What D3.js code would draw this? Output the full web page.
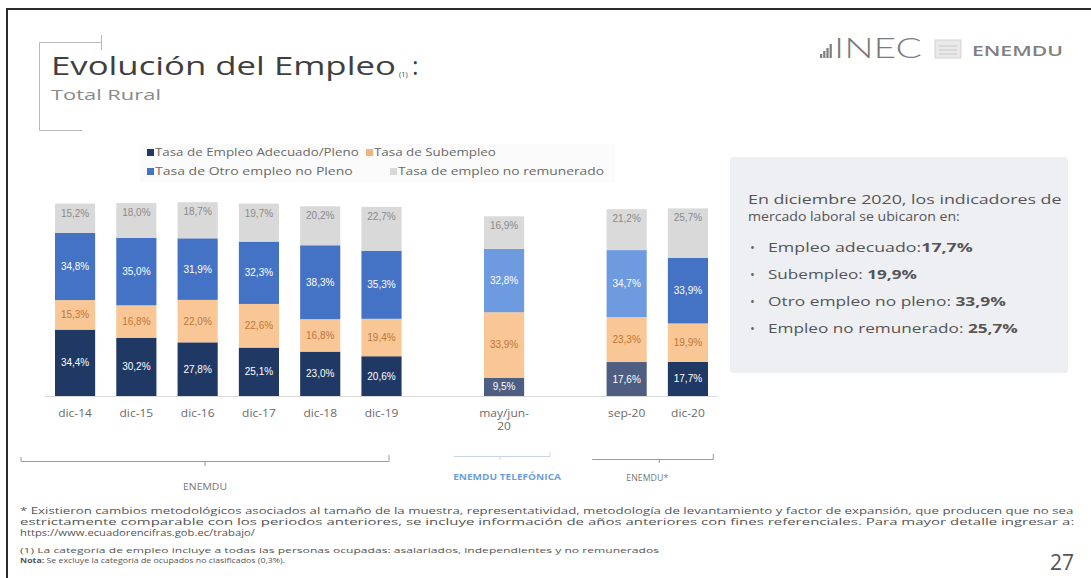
<!DOCTYPE html>
<html><head><meta charset="utf-8">
<script src="https://cdn.jsdelivr.net/npm/d3@7"></script>
<style>body{margin:0;background:#fff}svg{display:block}</style>
</head><body><svg id="c" width="1091" height="578"></svg>
<script>
// ---------- DATA ----------
const categories = ["dic-14","dic-15","dic-16","dic-17","dic-18","dic-19","may/jun-20","sep-20","dic-20"];
const adecuado     = [34.4, 30.2, 27.8, 25.1, 23.0, 20.6,  9.5, 17.6, 17.7];
const subempleo    = [15.3, 16.8, 22.0, 22.6, 16.8, 19.4, 33.9, 23.3, 19.9];
const otroNoPleno  = [34.8, 35.0, 31.9, 32.3, 38.3, 35.3, 32.8, 34.7, 33.9];
const noRemunerado = [15.2, 18.0, 18.7, 19.7, 20.2, 22.7, 16.9, 21.2, 25.7];
const seriesNames  = ["Tasa de Empleo Adecuado/Pleno","Tasa de Subempleo","Tasa de Otro empleo no Pleno","Tasa de empleo no remunerado"];
const groupLabels  = ["ENEMDU","ENEMDU TELEFÓNICA","ENEMDU*"];

// ---------- SETUP ----------
const svg = d3.select("#c");
const W = 1091, H = 578;
const FONT = "'Open Sans', 'DejaVu Sans', sans-serif";
const NUMF = "'Liberation Sans', Arial, sans-serif";
svg.append("rect").attr("width", W).attr("height", H).attr("fill", "#fff");
svg.append("path").attr("d", "M7,578 V9 H1091").attr("fill", "none").attr("stroke", "#2b2b2b").attr("stroke-width", 2);

// text fitted to a width by a horizontal scale (imitates a wide geometric face)
function fitText(parent, x, y, target, attrs, build) {
  const g = parent.append("g");
  const t = g.append("text").attr("x", 0).attr("y", 0).attr("font-family", FONT);
  Object.entries(attrs).forEach(([k, v]) => t.attr(k, v));
  build(t);
  const len = t.node().getComputedTextLength();
  const k = target ? target / len : 1.25;
  g.attr("transform", `translate(${x},${y}) scale(${k},1)`);
  return t;
}
const plain = s => t => t.text(s);

// title decoration
svg.append("path").attr("d", "M39.5,130.5 V42.5 H101.5 M101.5,35 V50 M39.5,130.5 H82")
  .attr("stroke", "#b8b8b8").attr("fill", "none");

fitText(svg, 51, 75, 345, {"font-size": 25, fill: "#3f3f3f"}, plain("Evolución del Empleo"));
svg.append("text").attr("x", 399).attr("y", 77).attr("font-family", FONT).attr("font-size", 7.5).attr("fill", "#3f3f3f").text("(1)");
svg.append("text").attr("x", 412).attr("y", 75).attr("font-family", FONT).attr("font-size", 25).attr("fill", "#3f3f3f").text(":");
fitText(svg, 51, 100, 110, {"font-size": 15, fill: "#8a8a8a"}, plain("Total Rural"));

// logo
const logo = svg.append("g");
[4,7,10,14].forEach((h,i)=>logo.append("rect").attr("x", 820 + i*3.2).attr("y", 58 - h).attr("width", 2.2).attr("height", h).attr("fill", "#7d7d7d"));
fitText(logo, 834, 58, 88, {"font-size": 28, "font-weight": 300, fill: "#7a7a7a", "font-family": "Lato, sans-serif"}, plain("INEC"));
logo.append("rect").attr("x", 935).attr("y", 40).attr("width", 26).attr("height", 18).attr("fill", "#e9e9e9").attr("stroke", "#d2d2d2");
logo.append("path").attr("d", "M939,46 H957 M939,50 H957 M939,54 H957").attr("stroke", "#c9c9c9");
fitText(logo, 972, 56, 91, {"font-size": 14.5, "font-weight": 600, fill: "#808080"}, plain("ENEMDU"));

// colours
const colors = ["#203864", "#f8c795", "#4472c4", "#d9d9d9"];
const mutedColors = ["#4e5d82", "#f8c795", "#6e9ae0", "#dadada"];
const labelColors = ["#ffffff", "#c0763a", "#ffffff", "#8a8a8a"];
const legendColors = ["#1f3864", "#f4b183", "#4472c4", "#d9d9d9"];
const mutedCats = new Set(["may/jun-20", "sep-20"]);

// legend
svg.append("rect").attr("x", 140).attr("y", 144).attr("width", 475).attr("height", 38).attr("fill", "#fbfbfb");
const legendLayout = [[147,156,204],[366,156,122],[147,175,198],[390,175,206]];
seriesNames.forEach((n,i)=>{
  const [lx, ly, w] = legendLayout[i];
  svg.append("rect").attr("x", lx).attr("y", ly - 7).attr("width", 7).attr("height", 7).attr("fill", legendColors[i]);
  fitText(svg, lx + 8, ly, w, {"font-size": 10.5, fill: "#6a6a6a"}, plain(n));
});

// ---------- CHART ----------
const slots = [...categories.slice(0,6), "gap1", categories[6], "gap2", ...categories.slice(7)];
const x = d3.scaleBand().domain(slots).range([55, 708]).paddingInner(0.345).paddingOuter(0);
const y = d3.scaleLinear().domain([0, 100]).range([396, 203]);

const keys = ["adecuado","subempleo","otro","noRem"];
const table = categories.map((c,i)=>({cat:c, adecuado:adecuado[i], subempleo:subempleo[i], otro:otroNoPleno[i], noRem:noRemunerado[i]}));
const stacked = d3.stack().keys(keys)(table);
const fmt = v => d3.format(".1f")(v).replace(".", ",") + "%";

stacked.forEach((layer, li)=>{
  const g = svg.append("g");
  g.selectAll("rect").data(layer).join("rect")
    .attr("x", d=>x(d.data.cat)).attr("width", x.bandwidth())
    .attr("y", d=>y(d[1])).attr("height", d=>y(d[0]) - y(d[1]))
    .attr("fill", d=> mutedCats.has(d.data.cat) ? mutedColors[li] : colors[li]);
  g.selectAll("text").data(layer).join("text")
    .attr("x", d=>x(d.data.cat) + x.bandwidth()/2)
    .attr("y", d=> li === 3 ? y(d[1]) + 13 : (y(d[0]) + y(d[1]))/2 + 3.5)
    .attr("text-anchor", "middle").attr("font-family", NUMF).attr("font-size", 10)
    .attr("fill", labelColors[li]).text(d=>fmt(d[1]-d[0]));
});

// baseline
svg.append("line").attr("x1", 45).attr("x2", 718).attr("y1", 396.5).attr("y2", 396.5).attr("stroke", "#d9d9d9");

// x axis
const xAxis = svg.append("g").attr("transform", "translate(0,397)")
  .call(d3.axisBottom(x).tickValues(categories).tickSize(0).tickPadding(13));
xAxis.select(".domain").remove();
xAxis.selectAll("text").attr("font-family", FONT).attr("font-size", 10).attr("fill", "#6a6a6a")
  .attr("transform", "scale(1.2,1)")
  .each(function(d){
    if (d.length > 7) {
      const t = d3.select(this); const cut = d.indexOf("-") + 1;
      t.text(null);
      t.append("tspan").attr("x", 0).attr("dy", "0.71em").text(d.slice(0, cut));
      t.append("tspan").attr("x", 0).attr("dy", "1.3em").text(d.slice(cut));
      t.attr("dy", null);
    }
  });

// group brackets
const cEn = 205;
svg.append("path").attr("d", `M21,457 V461.5 H389 V455 M${cEn},461.5 V466`).attr("stroke", "#9a9a9a").attr("fill", "none");
fitText(svg, cEn, 490, 44, {"font-size": 8.5, fill: "#777", "text-anchor": "middle"}, plain(groupLabels[0]));
const cTel = x(categories[6]) + x.bandwidth()/2;
svg.append("path").attr("d", `M${cTel-50},456.5 H${cTel+46} V452 M${cTel-4},456.5 V460`).attr("stroke", "#c9d5e6").attr("fill","none");
fitText(svg, cTel + 3, 480, 108, {"font-size": 8.5, "font-weight": 700, fill: "#6f9fd8", "text-anchor": "middle"}, plain(groupLabels[1]));
const cStar = (x(categories[7]) + x(categories[8]) + x.bandwidth())/2;
svg.append("path").attr("d", `M${cStar-65},459.5 H${cStar+56} V454 M${cStar+2},459.5 V463`).attr("stroke", "#9a9a9a").attr("fill","none");
fitText(svg, cStar - 10, 481, 42, {"font-size": 8.5, fill: "#777", "text-anchor": "middle"}, plain(groupLabels[2]));

// ---------- TEXT BOX ----------
svg.append("rect").attr("x", 730).attr("y", 157).attr("width", 338).attr("height", 216).attr("rx", 3).attr("fill", "#eeeff2");
fitText(svg, 748, 204, 314, {"font-size": 12.5, fill: "#555"}, plain("En diciembre 2020, los indicadores de"));
fitText(svg, 748, 221, 212, {"font-size": 12.5, fill: "#555"}, plain("mercado laboral se ubicaron en:"));
const last = categories.length - 1;
const bullets = [["Empleo adecuado:", adecuado[last], 205], ["Subempleo: ", subempleo[last], 149],
                 ["Otro empleo no pleno: ", otroNoPleno[last], 238], ["Empleo no remunerado: ", noRemunerado[last], 250]];
bullets.forEach((b,i)=>{
  const by = 252 + i*27;
  svg.append("text").attr("x", 750).attr("y", by).attr("font-family", FONT).attr("font-size", 13).attr("fill", "#666").text("•");
  fitText(svg, 768, by, b[2], {"font-size": 13, fill: "#555"}, t => {
    t.append("tspan").text(b[0]);
    t.append("tspan").attr("font-weight", 700).text(fmt(b[1]));
  });
});

// ---------- FOOTNOTES ----------
const fnA = {"font-size": 9, fill: "#555"};
fitText(svg, 20, 514, 1055, fnA, plain("* Existieron cambios metodológicos asociados al tamaño de la muestra, representatividad, metodología de levantamiento y factor de expansión, que producen que no sea"));
fitText(svg, 20, 525, 1055, fnA, plain("estrictamente comparable con los periodos anteriores, se incluye información de años anteriores con fines referenciales. Para mayor detalle ingresar a:"));
fitText(svg, 20, 536, null, fnA, plain("https://www.ecuadorencifras.gob.ec/trabajo/"));
fitText(svg, 20, 553, 640, {"font-size": 7.5, fill: "#555"}, plain("(1) La categoría de empleo incluye a todas las personas ocupadas: asalariados, independientes y no remunerados"));
fitText(svg, 20, 563, 265, {"font-size": 7, fill: "#555"}, t => {
  t.append("tspan").attr("font-weight", 700).text("Nota: ");
  t.append("tspan").text("Se excluye la categoría de ocupados no clasificados (0,3%).");
});
svg.append("text").attr("x", 1074).attr("y", 570).attr("text-anchor", "end").attr("font-family", FONT)
  .attr("font-size", 21).attr("fill", "#555").text("27");
</script></body></html>
